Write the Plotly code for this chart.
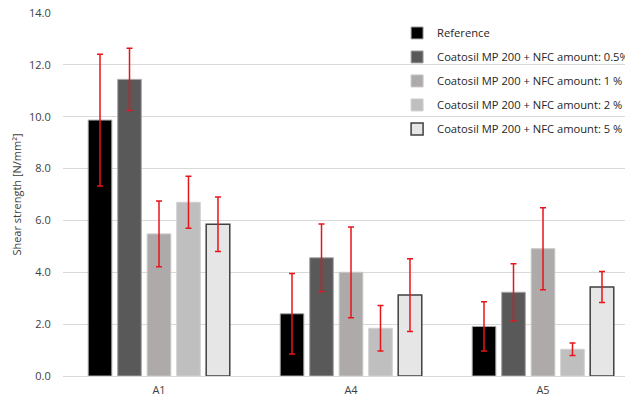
import plotly.graph_objects as go

categories = ["A1", "A4", "A5"]
series_names = [
    "Reference",
    "Coatosil MP 200 + NFC amount: 0.5%",
    "Coatosil MP 200 + NFC amount: 1 %",
    "Coatosil MP 200 + NFC amount: 2 %",
    "Coatosil MP 200 + NFC amount: 5 %",
]
ref_vals = [9.87, 2.40, 1.91]
nfc05_vals = [11.44, 4.56, 3.23]
nfc1_vals = [5.48, 4.00, 4.91]
nfc2_vals = [6.70, 1.84, 1.03]
nfc5_vals = [5.85, 3.12, 3.43]

ref_err = [2.54, 1.55, 0.95]
nfc05_err = [1.20, 1.30, 1.10]
nfc1_err = [1.27, 1.75, 1.58]
nfc2_err = [1.00, 0.88, 0.24]
nfc5_err = [1.05, 1.40, 0.60]

values = [ref_vals, nfc05_vals, nfc1_vals, nfc2_vals, nfc5_vals]
errors = [ref_err, nfc05_err, nfc1_err, nfc2_err, nfc5_err]
fills = ["#000000", "#595959", "#aeaaaa", "#bfbfbf", "#e7e6e6"]
borders = ["#a6a6a6", "#a6a6a6", "#c8c8c8", "#d0d0d0", "#404040"]
border_w = [1, 1, 1, 1, 1.5]

yticks = [0, 2, 4, 6, 8, 10, 12, 14]

FONT = "Open Sans"

fig = go.Figure()
for i, (name, v, e, f, b, w) in enumerate(zip(series_names, values, errors, fills, borders, border_w)):
    fig.add_trace(go.Bar(
        x=categories, y=v, name=name, legendgroup=f"g{i}",
        marker=dict(color=f, line=dict(color=b, width=w)),
        error_y=dict(type="data", array=e, visible=True, color="#e8141b",
                     thickness=1.5, width=3),
    ))

# the page body adds an 8px offset; layout is designed for that
fig.update_layout(
    width=633, height=400,
    margin=dict(l=55, r=0, t=5, b=32, pad=0, autoexpand=False),
    paper_bgcolor="white", plot_bgcolor="white",
    barmode="group", bargap=0.232, bargroupgap=0.2,
    font=dict(family=FONT, size=11, color="#404040"),
    showlegend=True,
    legend=dict(x=0.578, y=0.985, xanchor="left", yanchor="top",
                bgcolor="rgba(0,0,0,0)", font=dict(family=FONT, size=11.2, color="#262626"),
                tracegroupgap=5, itemwidth=30, traceorder="grouped"),
    xaxis=dict(range=[-0.5, 2.5104], showgrid=False, showline=False,
               ticks="outside", ticklen=4, tickcolor="rgba(0,0,0,0)", automargin=False,
               tickfont=dict(size=11, color="#404040")),
    yaxis=dict(range=[0, 14], tickvals=yticks, tickformat=".1f",
               showgrid=True, gridcolor="#d9d9d9", gridwidth=1,
               zeroline=True, zerolinecolor="#d9d9d9", zerolinewidth=1,
               showline=False, ticks="outside", ticklen=9, tickcolor="rgba(0,0,0,0)",
               automargin=False, ticklabeloverflow="allow",
               title=dict(text="Shear strength [N/mm²]", font=dict(size=11, color="#404040"), standoff=5),
               tickfont=dict(size=11, color="#404040")),
)

fig.write_html("out.html")
